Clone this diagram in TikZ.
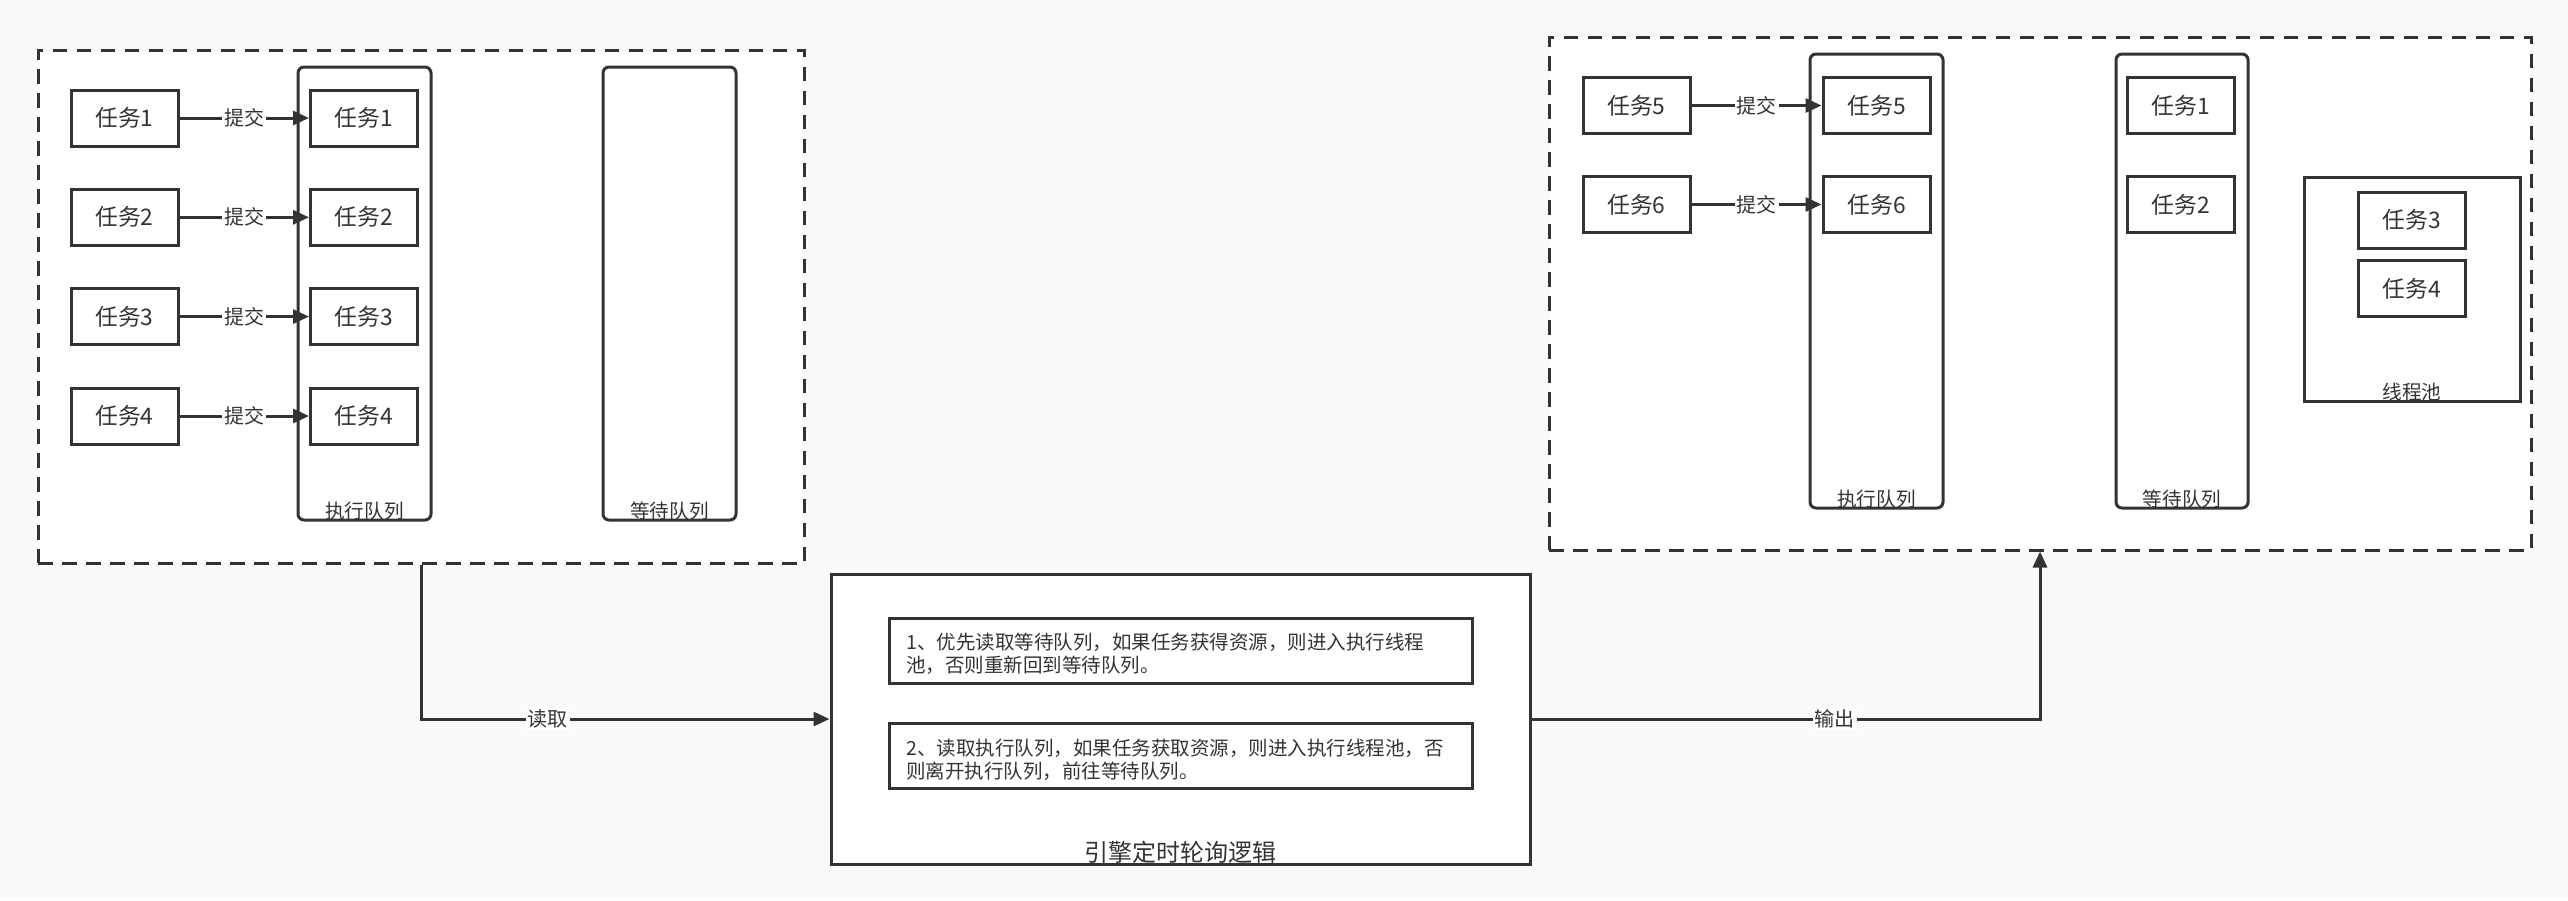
\documentclass[tikz,border=0pt]{standalone}
\usepackage{fontspec}
\setmainfont{Noto Sans CJK SC}
\usetikzlibrary{fit,arrows.meta}
\definecolor{ink}{RGB}{51,51,51}
\definecolor{bg}{RGB}{250,250,250}
\begin{document}
\begin{tikzpicture}[x=0.5pt,y=-0.5pt,
  task/.style={draw=ink, line width=1.5pt, fill=white, minimum width=53.5pt, minimum height=28pt, inner sep=0pt, font=\fontsize{11.4pt}{13pt}\selectfont, text=ink},
  queue/.style={draw=ink, line width=1.5pt, fill=white, rounded corners=3pt, inner sep=0pt},
  group/.style={draw=ink, fill=white, line width=1.5pt, dash pattern=on 7.25pt off 4.75pt, inner sep=0pt},
  plain/.style={draw=ink, line width=1.5pt, fill=white, inner sep=0pt},
  qlabel/.style={font=\fontsize{9.8pt}{11pt}\selectfont, text=ink, inner sep=0pt},
  elabel/.style={font=\fontsize{10pt}{12pt}\selectfont, text=ink, fill=white, inner sep=1pt},
  arr/.style={draw=ink, line width=1.5pt, -{Triangle[length=8pt,width=7pt]}},
  body/.style={font=\fontsize{9.75pt}{11.5pt}\selectfont, text=ink, align=left, inner sep=0pt, anchor=west}
]
\fill[bg] (0,0) rectangle (2568,900);
\useasboundingbox (0,0) rectangle (2568,900);

% left group
\node[group, fit={(38,50) (804,563)}] (L) {};
\node[queue, fit={(298,67) (431,520)}] (LE) {};
\node[queue, fit={(603,67) (736,520)}] (LW) {};
\node[qlabel] (LEl) at (364.5,511) {执行队列};
\node[qlabel] (LWl) at (669.5,511) {等待队列};
\foreach \i/\y in {1/118,2/217.3,3/316.6,4/416}{
  \node[task] (a\i) at (124.5,\y) {任务\i};
  \node[task] (b\i) at (364,\y) {任务\i};
  \draw[arr] (a\i) -- node[elabel] (s\i) {提交} (b\i);
}

% right group
\node[group, fit={(1549,37) (2531,550)}] (R) {};
\node[queue, fit={(1810,54) (1943,508)}] (RE) {};
\node[queue, fit={(2116,54) (2248,508)}] (RW) {};
\node[plain, fit={(2304,177) (2520,401.5)}] (P) {};
\node[qlabel] (REl) at (1876.5,499) {执行队列};
\node[qlabel] (RWl) at (2182,499) {等待队列};
\node[qlabel] (Pl) at (2412,392) {线程池};
\foreach \i/\y in {5/105.5,6/204.5}{
  \node[task] (c\i) at (1636.5,\y) {任务\i};
  \node[task] (d\i) at (1876.5,\y) {任务\i};
  \draw[arr] (c\i) -- node[elabel] (t\i) {提交} (d\i);
}
\node[task] (w1) at (2181,105.5) {任务1};
\node[task] (w2) at (2181,204.5) {任务2};
\node[task] (p3) at (2412,220) {任务3};
\node[task] (p4) at (2412,288.6) {任务4};

% engine
\node[plain, fit={(831,574) (1530,864)}] (E) {};
\node[plain, fit={(889,618) (1472,683)}] (E1) {};
\node[plain, fit={(889,723) (1472,788)}] (E2) {};
\node[body] (E1t) at (906,654) {1、优先读取等待队列，如果任务获得资源，则进入执行线程\\池，否则重新回到等待队列。};
\node[body] (E2t) at (906,760) {2、读取执行队列，如果任务获取资源，则进入执行线程池，否\\则离开执行队列，前往等待队列。};
\node[font=\fontsize{12pt}{14pt}\selectfont, text=ink, inner sep=0pt] (El) at (1180.5,852) {引擎定时轮询逻辑};

% connectors
\draw[arr] (L.south) |- node[elabel, pos=0.655] (rd) {读取} (E.west);
\draw[arr] (E.east) -| node[elabel, pos=0.298] (out) {输出} (R.south);
\end{tikzpicture}
\end{document}
